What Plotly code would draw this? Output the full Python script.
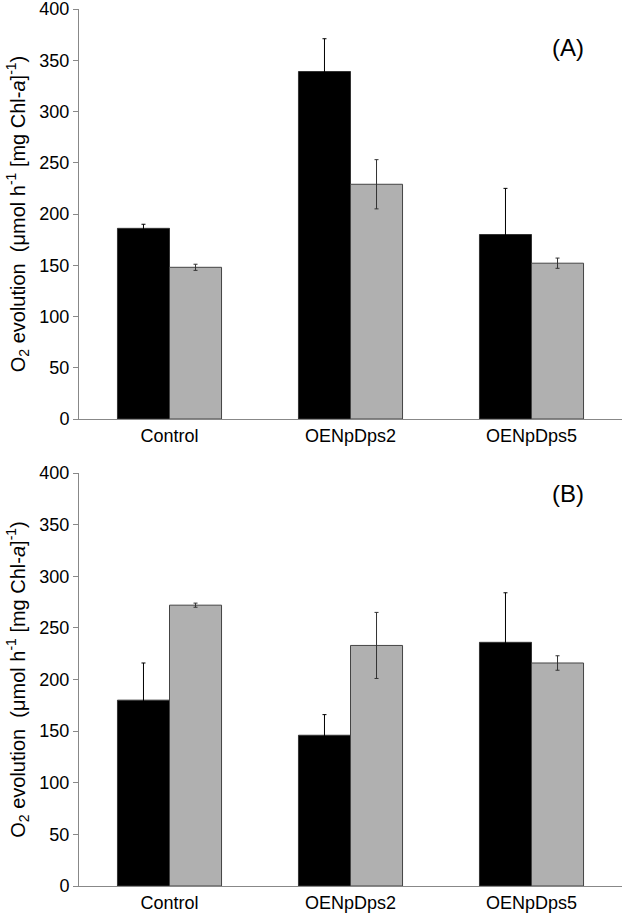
import plotly.graph_objects as go
from plotly.subplots import make_subplots

categories = ["Control", "OENpDps2", "OENpDps5"]

# Panel A
a_black = [186, 339, 180]
a_black_err = [4, 32, 45]
a_gray = [148, 229, 152]
a_gray_err = [3, 24, 5]

# Panel B
b_black = [180, 146, 236]
b_black_err = [36, 20, 48]
b_gray = [272, 233, 216]
b_gray_err = [2, 32, 7]

y_ticks = [0, 50, 100, 150, 200, 250, 300, 350, 400]
panel_labels = ["(A)", "(B)"]

FONT = "Liberation Sans, Arial, sans-serif"

fig = make_subplots(rows=2, cols=1, vertical_spacing=0.06)

def add_panel(row, black, black_err, gray, gray_err):
    fig.add_trace(go.Bar(
        x=categories, y=black,
        marker=dict(color="#000000", line=dict(color="#333333", width=1)),
        error_y=dict(type="data", array=black_err, visible=True,
                     color="#000000", thickness=1, width=2),
        showlegend=False), row=row, col=1)
    fig.add_trace(go.Bar(
        x=categories, y=gray,
        marker=dict(color="#b0b0b0", line=dict(color="#444444", width=1)),
        error_y=dict(type="data", array=gray_err, visible=True,
                     color="#333333", thickness=1, width=2),
        showlegend=False), row=row, col=1)

add_panel(1, a_black, a_black_err, a_gray, a_gray_err)
add_panel(2, b_black, b_black_err, b_gray, b_gray_err)

ytitle = "O<sub>2</sub> evolution  (μmol h<sup>-1</sup> [mg Chl-<i>a</i>]<sup>-1</sup>)"

domains = {1: [0.5325, 1.0], 2: [0.0, 0.4709]}

for r in (1, 2):
    fig.update_yaxes(row=r, col=1, range=[0, 400], tickvals=y_ticks,
                     domain=domains[r], automargin=False,
                     ticklabeloverflow="allow",
                     showgrid=False, zeroline=False, showline=True,
                     linecolor="#888888", linewidth=1, ticks="outside",
                     ticklen=5, tickcolor="#888888",
                     tickfont=dict(family=FONT, size=18, color="#000000"),
                     title=dict(text=ytitle, standoff=8,
                                font=dict(family=FONT, size=20, color="#000000")))
    fig.update_xaxes(row=r, col=1, showgrid=False, showline=True,
                     automargin=False, ticklabeloverflow="allow",
                     linecolor="#888888", linewidth=1, ticks="",
                     tickfont=dict(family=FONT, size=18, color="#000000"))

fig.update_layout(
    width=628, height=918,
    margin=dict(l=79, r=6, t=9, b=32),
    paper_bgcolor="white", plot_bgcolor="white",
    barmode="group", bargap=0.425, bargroupgap=0,
    font=dict(family=FONT, color="#000000"),
)

fig.add_annotation(text=panel_labels[0], xref="x domain", yref="y domain",
                   x=0.90, y=0.905, xanchor="center", yanchor="middle",
                   showarrow=False,
                   font=dict(family=FONT, size=24, color="#000000"))
fig.add_annotation(text=panel_labels[1], xref="x2 domain", yref="y2 domain",
                   x=0.90, y=0.95, xanchor="center", yanchor="middle",
                   showarrow=False,
                   font=dict(family=FONT, size=24, color="#000000"))

fig.write_html("out.html",
               config={"displayModeBar": False},
               post_script="document.body.style.margin='0px';"
                           "document.body.style.overflow='hidden';")
